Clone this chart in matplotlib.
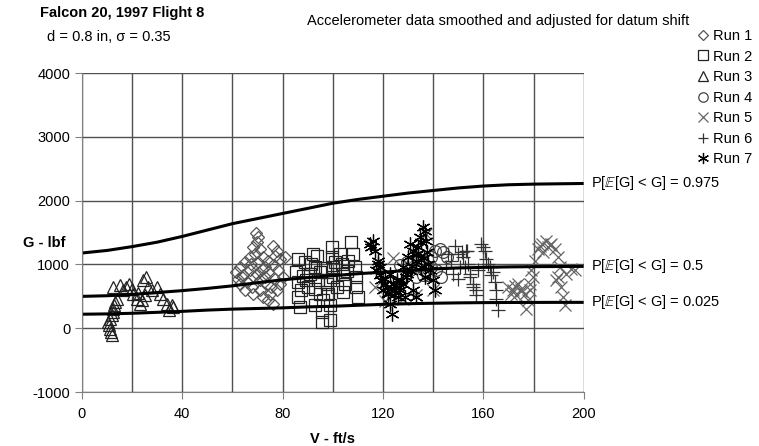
import matplotlib.pyplot as plt
import numpy as np

plt.rcParams['font.family'] = ['Liberation Sans', 'DejaVu Sans']
plt.rcParams['axes.unicode_minus'] = False

# probability curves
curve_v = [0, 10, 20, 30, 40, 50, 60, 70, 80, 90, 100, 110, 120, 130, 140, 150, 160, 170, 180, 190, 200]
g_975 = [1180, 1220, 1280, 1350, 1440, 1540, 1640, 1720, 1800, 1880, 1960, 2020, 2070, 2120, 2160, 2200, 2230, 2250, 2260, 2265, 2270]
g_500 = [500, 510, 530, 560, 590, 625, 665, 715, 760, 795, 825, 855, 880, 905, 930, 945, 955, 962, 966, 968, 970]
g_025 = [220, 225, 235, 250, 265, 285, 300, 310, 320, 335, 345, 360, 375, 385, 392, 398, 402, 404, 405, 406, 406]

# run data (V ft/s, G lbf)
run1_v = [69.3, 70.2, 69.6, 68.3, 70.9, 68.9, 66.9, 64.9, 62.9, 61.6, 63.6, 65.6, 67.6, 64.9, 68.3, 70.9,
          72.2, 74.2, 76.2, 74.9, 77.6, 78.9, 76.9, 80.2, 78.2, 76.2, 74.2, 76.9, 78.9, 80.9, 76.2, 77.6,
          72.2, 71.6, 69.6, 72.9, 73.6, 66.9, 64.3, 62.3, 70.2, 74.2, 67.5, 71.0, 75.5, 73.0, 63.0, 68.0]
run1_g = [1489, 1427, 1349, 1271, 1245, 1166, 1114, 1036, 958, 880, 802, 724, 646, 594, 541, 594,
          489, 437, 385, 541, 594, 698, 776, 802, 906, 984, 1062, 1140, 1088, 1114, 1297, 1219,
          1114, 932, 854, 802, 698, 906, 828, 776, 1036, 880, 1000, 760, 650, 960, 700, 820]
run2_v = [86.2, 85.5, 86.2, 86.2, 86.9, 88.8, 90.8, 90.2, 92.2, 92.8, 92.8, 94.2, 94.8, 95.5, 95.5, 96.1,
          98.1, 98.8, 99.5, 99.5, 100.1, 100.1, 101.5, 102.8, 103.5, 104.1, 104.8, 106.1, 107.4, 108.1,
          108.8, 109.4, 109.4, 110.1, 104.1, 98.8, 89.5, 93.5, 87.5, 97.5, 91.5, 95.0, 97.0, 101.0,
          105.5, 88.0, 93.0, 99.0]
run2_g = [1088, 880, 724, 489, 333, 1036, 854, 646, 1166, 958, 359, 750, 541, 255, 99, 437,
          541, 359, 1114, 1271, 958, 802, 646, 1166, 1010, 854, 698, 1062, 1349, 1166,
          958, 802, 646, 489, 568, 125, 750, 1140, 594, 698, 1000, 880, 950, 1040,
          900, 820, 620, 760]
run3_v = [11.8, 11.4, 11.2, 10.9, 10.5, 11.2, 11.8, 12.2, 12.5, 12.7, 13.1, 13.8,
          12.5, 15.1, 16.5, 18.9, 19.8, 20.4, 21.8, 23.1, 24.4, 25.5, 26.4, 25.1, 23.8,
          29.8, 31.1, 32.4, 33.7, 34.8, 35.7, 36.4, 17.5, 22.5, 28.0]
run3_g = [-109, -57, -5, 47, 98, 151, 203, 255, 307, 359, 411, 463,
          646, 672, 594, 698, 620, 542, 464, 386, 750, 802, 646, 516, 438,
          646, 542, 464, 386, 281, 359, 333, 650, 560, 600]
run4_v = [126.7, 129.4, 132.0, 134.7, 136.7, 138.0, 139.3, 140.6, 142.7, 144.0, 145.4, 141.3, 143.3,
          130.7, 133.3, 136.0, 139.3]
run4_g = [984, 1036, 1062, 984, 906, 828, 1114, 1219, 1245, 1192, 1114, 906, 802,
          906, 802, 828, 958]
run5_v = [117.0, 121.0, 128.0, 133.0, 140.0, 137.0, 124.0, 130.0,
          169.9, 171.9, 173.8, 175.2, 176.5, 177.8, 177.2, 173.2, 171.2, 178.5, 179.2, 180.5, 181.8,
          183.2, 185.1, 187.1, 188.4, 189.8, 190.4, 189.8, 191.1, 191.8, 192.4, 193.1, 195.1, 196.4,
          189.1, 183.8, 185.8, 179.9, 178.5, 172.5, 175.0, 182.5, 186.5]
run5_g = [650, 420, 460, 520, 600, 1480, 1100, 1000,
          646, 594, 698, 620, 541, 437, 307, 515, 541, 594, 906, 1062, 1245,
          1323, 1375, 1323, 1245, 1114, 958, 802, 646, 489, 359, 854, 932, 906,
          750, 1192, 1271, 802, 698, 660, 580, 1290, 1300]
run6_v = [145.9, 147.2, 148.6, 149.9, 150.6, 151.9, 153.2, 153.9, 154.6, 155.9, 157.2, 157.9, 147.9,
          149.9, 145.2, 151.3, 153.3, 152.6, 154.6, 156.0, 157.2, 159.2, 160.6, 161.2, 162.6, 163.2,
          164.5, 165.2, 165.2, 165.9, 161.9, 159.8, 163.8]
run6_g = [1166, 1062, 1297, 1166, 958, 1114, 1219, 1010, 854, 698, 594, 906, 854,
          776, 958, 1193, 1219, 958, 802, 646, 515, 1323, 1219, 1088, 958, 828,
          724, 594, 463, 281, 1010, 1280, 880]
run7_v = [116.1, 115.4, 116.7, 118.1, 118.7, 117.4, 120.7, 121.4, 122.1, 122.7, 123.4, 124.0, 125.4,
          126.7, 128.0, 129.4, 130.0, 130.7, 132.0, 133.3, 134.0, 134.7, 136.0, 136.7, 137.3, 135.3,
          136.7, 138.6, 140.0, 140.6, 126.0, 124.7, 128.7, 132.0, 133.3, 128.0, 122.7, 119.4, 120.0,
          114.7, 119.0, 121.0, 123.0, 125.0, 127.0, 129.0, 131.0, 133.0, 135.0, 137.5, 118.0, 121.8,
          124.2, 126.2, 131.5, 134.0, 138.0, 136.2]
run7_g = [1375, 1271, 1219, 1062, 958, 906, 776, 646, 541, 385, 229, 698, 750,
          594, 698, 854, 1114, 1323, 1219, 1062, 1271, 1427, 1583, 1531, 1375, 958,
          802, 906, 750, 594, 489, 594, 489, 594, 489, 958, 854, 750, 594,
          1323, 830, 700, 620, 680, 760, 800, 900, 1150, 1350, 1200, 1010, 560,
          520, 650, 980, 1180, 1000, 1100]

runs = [
    ("Run 1", run1_v, run1_g, "D", "#555555", 6.5),
    ("Run 2", run2_v, run2_g, "s", "#222222", 8.5),
    ("Run 3", run3_v, run3_g, "^", "#222222", 9),
    ("Run 4", run4_v, run4_g, "o", "#444444", 8.5),
    ("Run 5", run5_v, run5_g, "x", "#666666", 8.5),
    ("Run 6", run6_v, run6_g, "+", "#333333", 9.5),
    ("Run 7", run7_v, run7_g, (6, 2, 0), "#000000", 10),
]

fig = plt.figure(figsize=(7.59, 4.46), dpi=100)
ax = fig.add_axes([0.108, 0.121, 0.661, 0.715])

for name, v, g, m, c, ms in runs:
    ax.plot(v, g, linestyle="none", marker=m, markersize=ms, markerfacecolor="none",
            markeredgecolor=c, markeredgewidth=0.9, label=name, clip_on=False)

for g in (g_975, g_500, g_025):
    ax.plot(curve_v, g, color="black", lw=2.2, solid_capstyle="butt")

ax.set_xlim(0, 200)
ax.set_ylim(-1000, 4000)
ax.set_xticks(np.arange(0, 201, 40))
ax.set_xticks(np.arange(0, 201, 20), minor=True)
ax.set_yticks(np.arange(-1000, 4001, 1000))
ax.grid(True, which="both", color="#505050", lw=1)
ax.tick_params(axis="x", which="minor", length=0)
ax.tick_params(axis="both", which="major", labelsize=10.5, length=5, color="#808080", direction="out")
ax.tick_params(axis="x", pad=6)
for s in ("top", "right"):
    ax.spines[s].set_visible(False)
for s in ("left", "bottom"):
    ax.spines[s].set_color("#808080")
ax.set_axisbelow(True)

ax.set_xlabel("V - ft/s", fontsize=10.5, fontweight="bold", labelpad=8)
fig.text(0.03, 0.455, "G - lbf", fontsize=10.5, fontweight="bold", ha="left", va="center")

fig.text(0.053, 0.97, "Falcon 20, 1997 Flight 8", fontsize=10.5, fontweight="bold", ha="left", va="center")
fig.text(0.062, 0.918, "d = 0.8 in, \u03c3 = 0.35", fontsize=10.5, ha="left", va="center")
fig.text(0.404, 0.952, "Accelerometer data smoothed and adjusted for datum shift", fontsize=10.5,
         ha="left", va="center")

for g, lab in ((g_975, "0.975"), (g_500, "0.5"), (g_025, "0.025")):
    ax.annotate(r"P[$\mathbb{E}$[G] < G] = " + lab, xy=(200, g[-1]), xytext=(5, 0),
                textcoords="offset points", fontsize=10.5, va="center", ha="left",
                annotation_clip=False)

fig.legend(loc="upper left", bbox_to_anchor=(0.918, 0.935), frameon=False, fontsize=10.5,
           handlelength=0.8, handletextpad=0.3, labelspacing=0.45, borderpad=0, borderaxespad=0,
           markerscale=0.8)

fig.savefig("out.png", dpi=100)
